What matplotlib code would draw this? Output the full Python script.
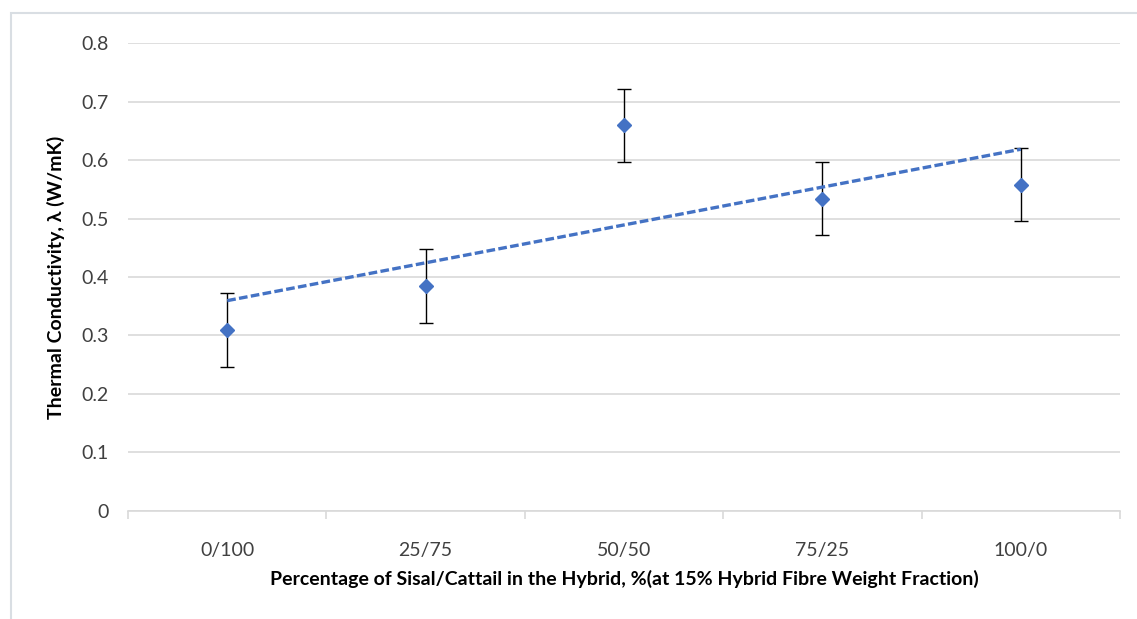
import numpy as np
import matplotlib.pyplot as plt
from matplotlib.patches import Rectangle

# data
categories = ['0/100', '25/75', '50/50', '75/25', '100/0']
conductivity = [0.309, 0.385, 0.659, 0.534, 0.558]
error = [0.063, 0.063, 0.063, 0.063, 0.063]

blue = '#4472C4'
grid_col = '#D9D9D9'
plt.rcParams['font.family'] = ['Lato', 'DejaVu Sans']

fig = plt.figure(figsize=(11.37, 6.19), dpi=100)
ax = fig.add_axes([0.1126, 0.1745, 0.8724, 0.756])

# light frame round the chart area, as in the Excel export
fig.patches.append(Rectangle((11 / 1137, -0.1), 1.2, (619 - 13) / 619 + 0.1,
                             transform=fig.transFigure, fill=False,
                             edgecolor='#D9DEE3', lw=1.5))

x = np.arange(1, len(categories) + 1)
y = np.array(conductivity)

ax.errorbar(x, y, yerr=error, fmt='none', ecolor='black', elinewidth=1,
            capsize=4.7, capthick=1, zorder=3)
ax.plot(x, y, 'D', color=blue, markersize=7, zorder=4)

# linear trendline
k, b = np.polyfit(x, y, 1)
ax.plot(x, k * x + b, color=blue, lw=2.4, dashes=(2.6, 1.0), zorder=3)

ax.set_xlim(0.5, len(categories) + 0.5)
ax.set_ylim(0, 0.8)
ax.set_yticks(np.arange(0, 0.81, 0.1))
ax.set_yticklabels(['0'] + ['%.1f' % v for v in np.arange(0.1, 0.81, 0.1)])
ax.yaxis.grid(True, color=grid_col, lw=1.2)
ax.set_axisbelow(True)

ax.set_xticks(np.arange(0.5, len(categories) + 1, 1.0))
ax.set_xticklabels([])
ax.set_xticks(x, minor=True)
ax.set_xticklabels(categories, minor=True, fontsize=14)
ax.tick_params(axis='x', which='major', length=6, color=grid_col, width=1.2,
               direction='out')
ax.tick_params(axis='x', which='minor', length=0, pad=22,
               labelcolor='#404040')
ax.tick_params(axis='y', length=0, pad=14, labelsize=14, labelcolor='#404040')

for side in ['top', 'right', 'left']:
    ax.spines[side].set_visible(False)
ax.spines['bottom'].set_color(grid_col)
ax.spines['bottom'].set_linewidth(1.2)

ax.set_xlabel('Percentage of Sisal/Cattail in the Hybrid, %(at 15% Hybrid Fibre Weight Fraction)',
              fontsize=14, fontweight='bold', labelpad=8)
ax.set_ylabel('Thermal Conductivity, λ (W/mK)', fontsize=14,
              fontweight='bold', labelpad=12)

fig.savefig('out.png', dpi=100)
